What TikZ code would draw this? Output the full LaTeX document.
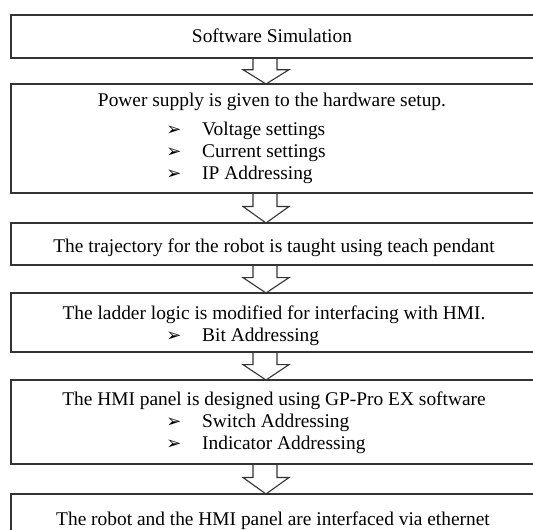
\documentclass[tikz,border=0pt]{standalone}
\usepackage{fontspec}
\setmainfont{Liberation Serif}
\newfontfamily\dingfont{DejaVu Sans}
\usetikzlibrary{calc}
\begin{document}
\begin{tikzpicture}[x=1pt,y=-1pt,
  stepbox/.style={draw=black!80, line width=1.3pt, inner sep=0pt, outer sep=0pt, minimum width=524pt, anchor=north west},
  txt/.style={inner sep=0pt, anchor=base, font=\fontsize{19.4}{22}\selectfont},
  itm/.style={inner sep=0pt, anchor=base west, font=\fontsize{19.4}{22}\selectfont},
  bul/.style={inner sep=0pt, anchor=base, font=\dingfont\fontsize{18}{20}\selectfont},
  blk/.style={draw=black!80, line width=1.1pt, line join=miter}]
\useasboundingbox (0,0) rectangle (533,530);
\clip (0,0) rectangle (533,530);
% boxes
\node[stepbox, minimum height=43pt] (b1) at (11,15) {};
\node[stepbox, minimum height=109pt] (b2) at (11,84) {};
\node[stepbox, minimum height=42pt] (b3) at (11,223) {};
\node[stepbox, minimum height=59pt] (b4) at (11,293) {};
\node[stepbox, minimum height=84pt] (b5) at (11,380) {};
\node[stepbox, minimum height=70pt] (b6) at (11,494) {};
% texts
\node[txt] (t1) at (272,42) {Software Simulation};
\node[txt] (t2) at (272,106) {Power supply is given to the hardware setup.};
\node[bul] (p1) at (174,135) {➢};
\node[itm] (i1) at (202,135) {Voltage settings};
\node[bul] (p2) at (174,157) {➢};
\node[itm] (i2) at (202,157) {Current settings};
\node[bul] (p3) at (174,179) {➢};
\node[itm] (i3) at (202,179) {IP Addressing};
\node[txt] (t3) at (274,252) {The trajectory for the robot is taught using teach pendant};
\node[txt] (t4) at (274,319) {The ladder logic is modified for interfacing with HMI.};
\node[bul] (p4) at (174,341) {➢};
\node[itm] (i4) at (202,341) {Bit Addressing};
\node[txt] (t5) at (274,405) {The HMI panel is designed using GP-Pro EX software};
\node[bul] (p5) at (174,427) {➢};
\node[itm] (i5) at (202,427) {Switch Addressing};
\node[bul] (p6) at (174,449) {➢};
\node[itm] (i6) at (202,449) {Indicator Addressing};
\node[txt] (t6) at (273,525) {The robot and the HMI panel are interfaced via ethernet};
% block arrows
\foreach \a/\b in {b1/b2,b2/b3,b3/b4,b4/b5,b5/b6}{
  \draw[blk] let \p1=(\a.south), \p2=(\b.north), \n1={\y1+0.45*(\y2-\y1)} in
    (253,\y1) -- (253,\n1) -- (243,\n1) -- (266,\y2) -- (289,\n1) -- (277,\n1) -- (277,\y1);
}
\end{tikzpicture}
\end{document}
